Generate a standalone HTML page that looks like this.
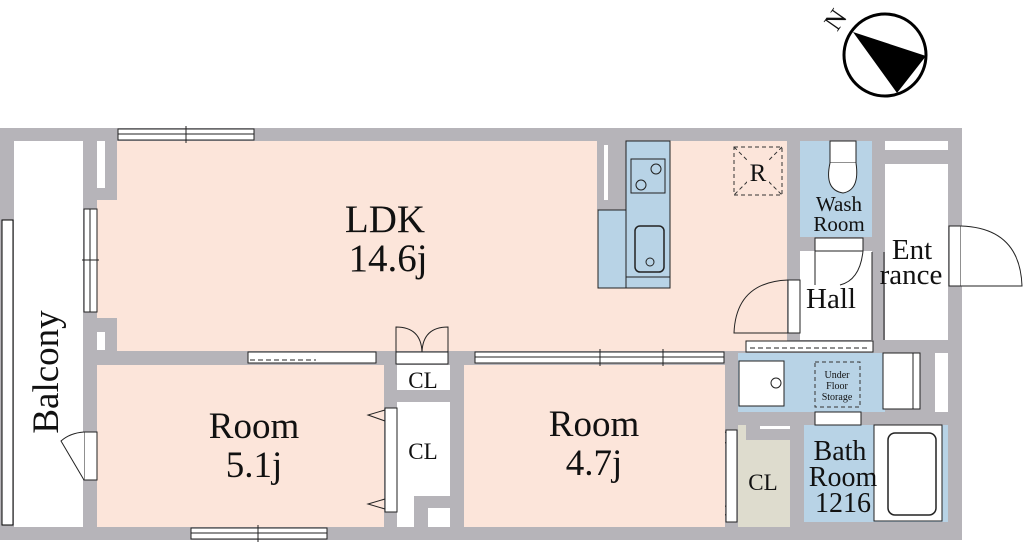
<!DOCTYPE html>
<html><head><meta charset="utf-8"><style>
html,body{margin:0;padding:0;background:#fff;width:1024px;height:544px;overflow:hidden}
svg{display:block}
text{font-family:"Liberation Serif",serif;fill:#111}
</style></head><body>
<svg width="1024" height="544" viewBox="0 0 1024 544" xmlns="http://www.w3.org/2000/svg">
<circle cx="885" cy="55" r="41" fill="#fff" stroke="#000" stroke-width="3"/>
<polygon points="853,32 926,56 897,93" fill="#000"/>
<text x="836" y="28" font-size="26" transform="rotate(-55 836 20)" text-anchor="middle">N</text>

<rect x="0" y="128" width="962" height="412" fill="#b6b4b9"/>
<rect x="14" y="141" width="69" height="386" fill="#fff"/>
<rect x="2" y="220" width="11" height="305" fill="#fff" stroke="#000" stroke-width="1"/>
<rect x="117" y="141" width="670" height="210" fill="#fce5da"/>
<rect x="97" y="200" width="22" height="118" fill="#fce5da"/>
<rect x="97" y="141" width="8" height="47" fill="#fff"/>
<rect x="97" y="332" width="8" height="18" fill="#fff"/>
<rect x="597" y="141" width="29" height="69" fill="#b6b4b9"/>
<rect x="604" y="145" width="4" height="55" fill="#fff"/>
<rect x="598" y="210" width="72" height="78" fill="#b8d3e6" stroke="#222" stroke-width="1"/>
<rect x="626" y="141" width="44" height="147" fill="#b8d3e6" stroke="#222" stroke-width="1"/>
<rect x="631" y="159" width="34" height="34" fill="none" stroke="#222"/>
<circle cx="641" cy="185" r="5" fill="none" stroke="#222"/>
<circle cx="656" cy="169" r="5" fill="none" stroke="#222"/>
<rect x="635" y="226" width="29" height="46" rx="5" fill="none" stroke="#222" stroke-width="1.5"/>
<circle cx="650" cy="262" r="4" fill="none" stroke="#222"/>
<line x1="626" y1="277" x2="670" y2="277" stroke="#222"/>
<rect x="734" y="147" width="48" height="48" fill="none" stroke="#333" stroke-dasharray="4,3"/>
<line x1="734" y1="147" x2="782" y2="195" stroke="#333" stroke-dasharray="4,3"/>
<line x1="782" y1="147" x2="734" y2="195" stroke="#333" stroke-dasharray="4,3"/>
<rect x="747" y="157" width="22" height="26" fill="#fce5da"/>
<text x="758" y="181" font-size="25" text-anchor="middle">R</text>
<rect x="800" y="141" width="72" height="96" fill="#b8d3e6"/>
<rect x="830" y="141" width="26" height="22" fill="#fff" stroke="#222"/>
<path d="M830 163 Q824 190 843 193 Q860 190 856 163" fill="#fff" stroke="#222"/>
<text x="839" y="211" font-size="21" text-anchor="middle">Wash</text>
<text x="839" y="231" font-size="21" text-anchor="middle">Room</text>
<rect x="885" y="141" width="63" height="9" fill="#fff"/>
<rect x="885" y="164" width="63" height="176" fill="#fff"/>
<rect x="800" y="251" width="72" height="89" fill="#fff"/>
<rect x="815" y="238" width="48" height="13" fill="#fff" stroke="#222"/>
<line x1="815" y1="251" x2="815" y2="285" stroke="#222"/>
<path d="M863 251 Q860 280 840 285" fill="none" stroke="#222"/>
<line x1="872" y1="252" x2="872" y2="340" stroke="#222"/>
<line x1="884" y1="252" x2="884" y2="340" stroke="#222"/>
<rect x="949" y="226" width="12" height="60" fill="#fff" stroke="#222"/>
<path d="M961 226 Q1020 228 1022 286 L961 286" fill="#fff" stroke="#222"/>
<text x="912" y="259" font-size="29" text-anchor="middle">Ent</text>
<text x="911" y="284" font-size="29" text-anchor="middle">rance</text>
<text x="831" y="308" font-size="29" text-anchor="middle">Hall</text>
<rect x="788" y="280" width="12" height="53" fill="#fff" stroke="#222"/>
<path d="M788 280 Q736 282 734 333 L788 333" fill="none" stroke="#222"/>
<rect x="746" y="341" width="127" height="11" fill="#fff" stroke="#222"/>
<line x1="750" y1="348" x2="868" y2="348" stroke="#222" stroke-dasharray="5,3"/>
<rect x="738" y="353" width="147" height="59" fill="#b8d3e6"/>
<rect x="739" y="361" width="45" height="45" fill="#fff" stroke="#222"/>
<circle cx="776" cy="383" r="5" fill="none" stroke="#222"/>
<rect x="815" y="362" width="45" height="45" fill="none" stroke="#333" stroke-dasharray="4,3"/>
<text x="837" y="378" font-size="10" text-anchor="middle">Under</text>
<text x="837" y="389" font-size="10" text-anchor="middle">Floor</text>
<text x="837" y="400" font-size="10" text-anchor="middle">Storage</text>
<rect x="883" y="353" width="37" height="56" fill="#fff" stroke="#222"/>
<line x1="913" y1="353" x2="913" y2="409" stroke="#222"/>
<rect x="935" y="353" width="13" height="59" fill="#fff"/>
<rect x="804" y="425" width="144" height="97" fill="#b8d3e6"/>
<rect x="815" y="412" width="46" height="13" fill="#fff" stroke="#222"/>
<rect x="874" y="425" width="68" height="96" fill="#fff" stroke="#222"/>
<rect x="888" y="433" width="48" height="82" rx="7" fill="none" stroke="#222" stroke-width="1.5"/>
<text x="840" y="460" font-size="28" text-anchor="middle">Bath</text>
<text x="843" y="486" font-size="28" text-anchor="middle">Room</text>
<text x="843" y="512" font-size="28" text-anchor="middle">1216</text>
<rect x="738" y="425" width="52" height="102" fill="#dedcce"/>
<rect x="746" y="425" width="44" height="15" fill="#b6b4b9"/>
<rect x="760" y="426" width="30" height="3" fill="#fff"/>
<rect x="726" y="430" width="11" height="92" fill="#fff" stroke="#222"/>
<path d="M726 432 L708 437 L726 443 M726 506 L708 510 L726 515" fill="none" stroke="#222"/>
<text x="763" y="490" font-size="23" text-anchor="middle">CL</text>
<rect x="464" y="365" width="261" height="162" fill="#fce5da"/>
<rect x="97" y="365" width="287" height="162" fill="#fce5da"/>
<rect x="397" y="365" width="53" height="25" fill="#fff"/>
<rect x="397" y="402" width="53" height="125" fill="#fff"/>
<rect x="414" y="496" width="36" height="31" fill="#b6b4b9"/>
<rect x="428" y="508" width="22" height="19" fill="#fff"/>
<rect x="385" y="408" width="12" height="104" fill="#fff" stroke="#222"/>
<path d="M385 410 L368 415 L385 421 M385 499 L368 504 L385 509" fill="none" stroke="#222"/>
<text x="423" y="459" font-size="23" text-anchor="middle">CL</text>
<text x="423" y="388" font-size="23" text-anchor="middle">CL</text>
<rect x="396" y="352" width="52" height="12" fill="#fff" stroke="#222"/>
<path d="M396 352 L396 327 Q421 327 422 352 Q423 327 448 327 L448 352" fill="none" stroke="#222"/>
<rect x="118" y="129" width="136" height="11" fill="#fff" stroke="#222"/>
<line x1="118" y1="134" x2="254" y2="134" stroke="#222"/>
<line x1="186" y1="126" x2="186" y2="143" stroke="#222"/>
<rect x="84" y="209" width="13" height="103" fill="#fff" stroke="#222"/>
<line x1="90" y1="209" x2="90" y2="312" stroke="#222"/>
<line x1="82" y1="260" x2="99" y2="260" stroke="#222"/>
<rect x="191" y="528" width="136" height="11" fill="#fff" stroke="#222"/>
<line x1="191" y1="533" x2="327" y2="533" stroke="#222"/>
<line x1="258" y1="525" x2="258" y2="542" stroke="#222"/>
<rect x="248" y="352" width="128" height="11" fill="#fff" stroke="#222"/>
<line x1="250" y1="360" x2="316" y2="360" stroke="#222" stroke-dasharray="5,3"/>
<rect x="475" y="352" width="249" height="11" fill="#fff" stroke="#222"/>
<line x1="475" y1="357" x2="724" y2="357" stroke="#222"/>
<line x1="600" y1="349" x2="600" y2="366" stroke="#222"/>
<line x1="663" y1="349" x2="663" y2="366" stroke="#222"/>
<rect x="84" y="432" width="13" height="48" fill="#fff" stroke="#222"/>
<path d="M84 432 Q70 433 61 441 L84 480" fill="#fff" stroke="#222"/>
<text x="385" y="232" font-size="39" text-anchor="middle">LDK</text>
<text x="388" y="271" font-size="39" text-anchor="middle">14.6j</text>
<text x="254" y="438" font-size="37" text-anchor="middle">Room</text>
<text x="254" y="477" font-size="37" text-anchor="middle">5.1j</text>
<text x="594" y="436" font-size="37" text-anchor="middle">Room</text>
<text x="594" y="475" font-size="37" text-anchor="middle">4.7j</text>
<text x="0" y="0" font-size="37" text-anchor="middle" transform="translate(58,372) rotate(-90)">Balcony</text>
</svg>
</body></html>
